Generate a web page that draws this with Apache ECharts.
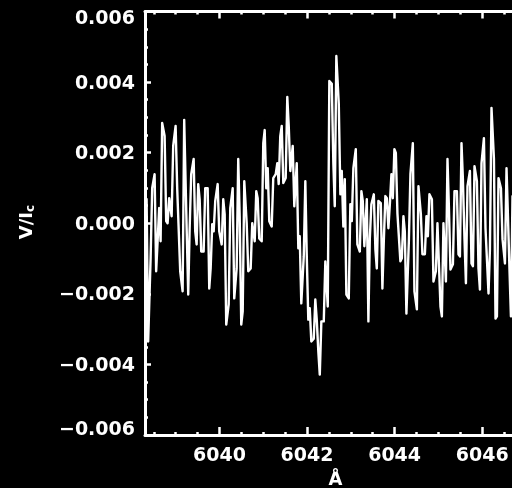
<!DOCTYPE html>
<html>
<head>
<meta charset="utf-8">
<script src="https://cdn.jsdelivr.net/npm/echarts@6/dist/echarts.min.js"></script>
<style>
html,body{margin:0;padding:0;background:#000;}
#chart{width:512px;height:488px;}
</style>
</head>
<body>
<div id="chart"></div>
<script>
// Wavelength (Å)
const wavelength = [
6038.336, 6038.372, 6038.428, 6038.464, 6038.519, 6038.555, 6038.588, 6038.624,
6038.656, 6038.692, 6038.748, 6038.784, 6038.816, 6038.852, 6038.908, 6038.944,
6038.999, 6039.035, 6039.068, 6039.104, 6039.159, 6039.195, 6039.251, 6039.287,
6039.319, 6039.355, 6039.411, 6039.447, 6039.479, 6039.515, 6039.548, 6039.584,
6039.639, 6039.675, 6039.731, 6039.767, 6039.799, 6039.835, 6039.868, 6039.904,
6039.959, 6039.995, 6040.051, 6040.087, 6040.119, 6040.155, 6040.211, 6040.247,
6040.302, 6040.338, 6040.393, 6040.429, 6040.462, 6040.498, 6040.531, 6040.567,
6040.622, 6040.658, 6040.713, 6040.749, 6040.805, 6040.841, 6040.873, 6040.909,
6040.965, 6041.001, 6041.033, 6041.069, 6041.102, 6041.138, 6041.193, 6041.229,
6041.285, 6041.321, 6041.353, 6041.389, 6041.422, 6041.458, 6041.513, 6041.549,
6041.582, 6041.618, 6041.673, 6041.709, 6041.765, 6041.801, 6041.833, 6041.869,
6041.925, 6041.961, 6041.993, 6042.029, 6042.062, 6042.098, 6042.153, 6042.189,
6042.222, 6042.258, 6042.291, 6042.327, 6042.382, 6042.418, 6042.473, 6042.509,
6042.565, 6042.601, 6042.633, 6042.669, 6042.725, 6042.761, 6042.793, 6042.829,
6042.862, 6042.898, 6042.953, 6042.989, 6043.022, 6043.058, 6043.113, 6043.149,
6043.205, 6043.241, 6043.273, 6043.309, 6043.365, 6043.401, 6043.433, 6043.469,
6043.525, 6043.561, 6043.593, 6043.629, 6043.685, 6043.721, 6043.753, 6043.789,
6043.822, 6043.858, 6043.891, 6043.927, 6043.959, 6043.995, 6044.028, 6044.064,
6044.096, 6044.132, 6044.165, 6044.201, 6044.233, 6044.269, 6044.325, 6044.361,
6044.416, 6044.452, 6044.508, 6044.544, 6044.599, 6044.635, 6044.691, 6044.727,
6044.759, 6044.795, 6044.851, 6044.887, 6044.942, 6044.978, 6045.011, 6045.047,
6045.079, 6045.115, 6045.171, 6045.207, 6045.239, 6045.275, 6045.331, 6045.367,
6045.422, 6045.458, 6045.491, 6045.527, 6045.559, 6045.595, 6045.628, 6045.664,
6045.719, 6045.755, 6045.788, 6045.824, 6045.879, 6045.915, 6045.948, 6045.984,
6046.039, 6046.075, 6046.108, 6046.144, 6046.176, 6046.212, 6046.268, 6046.304,
6046.336, 6046.372, 6046.428, 6046.464, 6046.519, 6046.555, 6046.588, 6046.624,
6046.656, 6046.692, 6046.748, 6046.784
];
// Stokes V / Ic
const stokesV = [
0.00071, -0.00335, -0.00099, 0.00099, 0.00139, -0.00136, -0.00051, 0.00043,
-0.00051, 0.00284, 0.00247, 0.00006, 0, 0.00071, 0.00020, 0.00219,
0.00276, 0.00099, 0.00099, -0.00136, -0.00193, 0.00293, -0.00014, -0.00202,
-0.00017, 0.00139, 0.00182, -0.00023, -0.00060, 0.00111, 0.00068, -0.00080,
-0.00080, 0.00099, 0.00099, -0.00185, -0.00128, -0.00003, -0.00023, 0.00063,
0.00111, -0.00023, -0.00060, 0.00068, 0.00026, -0.00287, -0.00230, 0.00043,
0.00099, -0.00213, -0.00128, 0.00182, 0.00020, -0.00287, -0.00250, 0.00119,
0, -0.00136, -0.00128, 0, -0.00051, 0.00091, 0.00071, -0.00043,
-0.00051, 0.00227, 0.00264, 0.00099, 0.00156, 0.00006, -0.00009, 0.00128,
0.00139, 0.00170, 0.00111, 0.00247, 0.00276, 0.00114, 0.00128, 0.00358,
0.00276, 0.00148, 0.00219, 0.00048, 0.00170, -0.00071, -0.00037, -0.00227,
-0.00094, 0.00119, -0.00088, -0.00273, -0.00241, -0.00335, -0.00327, -0.00216,
-0.00273, -0.00364, -0.00429, -0.00278, -0.00278, -0.00108, -0.00236, 0.00403,
0.00395, 0.00170, 0.00048, 0.00474, 0.00338, 0.00082, 0.00148, -0.00009,
0.00125, -0.00202, -0.00213, 0.00054, 0.00006, 0.00156, 0.00210, -0.00060,
-0.00080, 0.00091, 0.00063, -0.00065, 0.00068, -0.00278, -0.00045, 0.00054,
0.00082, -0.00074, -0.00128, 0.00063, 0.00057, -0.00185, -0.00051, 0.00077,
0.00071, -0.00014, 0.00054, 0.00139, 0.00071, 0.00210, 0.00199, 0.00028,
0.00028, -0.00108, -0.00099, 0.00020, -0.00023, -0.00256, -0.00051, 0.00139,
0.00227, -0.00193, -0.00244, 0.00105, 0.00026, -0.00088, -0.00088, 0.00020,
-0.00037, 0.00082, 0.00068, -0.00165, -0.00136, 0, -0.00003, -0.00236,
-0.00264, 0, -0.00165, 0.00182, 0.00048, -0.00131, -0.00116, 0.00091,
0.00091, -0.00088, -0.00094, 0.00227, 0.00125, -0.00043, -0.00170, 0.00105,
0.00148, -0.00114, -0.00122, 0.00162, 0.00119, -0.00128, -0.00188, 0.00170,
0.00241, -0.00014, -0.00017, -0.00199, -0.00074, 0.00327, 0.00182, -0.00270,
-0.00264, 0.00128, 0.00099, -0.00045, -0.00114, 0.00156, 0.00020, -0.00136,
-0.00264, 0.00077, 0.00063, -0.00051
];
const xMajorTicks = [6040, 6042, 6044, 6046];
const xMinorTicks = [6038.5, 6039, 6039.5, 6040, 6040.5, 6041, 6041.5, 6042, 6042.5,
  6043, 6043.5, 6044, 6044.5, 6045, 6045.5, 6046, 6046.5];
const yMin = -0.006, yMax = 0.006, yStep = 0.002;
const xMin = 6038.3, xMax = 6047.0;
const xName = 'Å';
const yName = 'V/I{s|c}';

const FONT = 'DejaVu Sans';
const white = '#ffffff';
const lblBase = {color: white, fontFamily: FONT, fontWeight: 'bold', fontSize: 19};

const chart = echarts.init(document.getElementById('chart'), null, {renderer: 'canvas'});
const points = wavelength.map((w, i) => [w, stokesV[i]]);

function xAxisCfg(pos, major, showLabel) {
  return {
    type: 'value', min: xMin, max: xMax, position: pos,
    axisLine: {show: major, onZero: false, lineStyle: {color: white, width: 3}},
    axisTick: {show: true, inside: true, length: major ? (pos === 'bottom' ? 8 : 7) : 3,
      customValues: major ? xMajorTicks : xMinorTicks,
      lineStyle: {color: white, width: 2.5}},
    axisLabel: showLabel ? Object.assign({show: true, customValues: xMajorTicks, margin: 12,
      formatter: v => String(Math.round(v))}, lblBase) : {show: false},
    splitLine: {show: false},
    name: (major && showLabel) ? xName : '',
    nameLocation: 'middle', nameGap: 32,
    nameTextStyle: {color: white, fontFamily: FONT, fontWeight: 'bold', fontSize: 18}
  };
}

const option = {
  backgroundColor: '#000',
  animation: false,
  grid: {left: 145, top: 11.5, right: -14, bottom: 53, containLabel: false, outerBoundsMode: 'none'},
  xAxis: [
    xAxisCfg('bottom', true, true),
    xAxisCfg('bottom', false, false),
    xAxisCfg('top', true, false),
    xAxisCfg('top', false, false)
  ],
  yAxis: [{
    type: 'value', min: yMin, max: yMax, interval: yStep, position: 'left',
    axisLine: {show: true, onZero: false, lineStyle: {color: white, width: 3}},
    axisTick: {show: true, inside: true, length: 6, lineStyle: {color: white, width: 2.5}},
    minorTick: {show: true, splitNumber: 4, length: 3, lineStyle: {color: white, width: 2.5}},
    splitLine: {show: false},
    minorSplitLine: {show: false},
    axisLabel: Object.assign({
      margin: 10,
      formatter: function (v) {
        const s = (v < -1e-9 ? '\u2212' : '') + Math.abs(v).toFixed(3);
        if (v > yMax - 1e-9) return '{t|' + s + '}';
        if (v < yMin + 1e-9) return '{b|' + s + '}';
        return '{n|' + s + '}';
      },
      rich: {
        t: Object.assign({padding: [15, 0, 0, 0]}, lblBase),
        b: Object.assign({padding: [0, 0, 9, 0]}, lblBase),
        n: Object.assign({padding: [3, 0, 0, 0]}, lblBase)
      }
    }, lblBase)
  }],
  graphic: [{
    type: 'text', x: 27, y: 222, rotation: Math.PI / 2,
    style: {
      text: yName, fill: white, font: 'bold 18px "DejaVu Sans"',
      align: 'center', verticalAlign: 'middle',
      rich: {s: {fontSize: 12, fontWeight: 'bold', fontFamily: FONT, fill: white, padding: [8, 0, 0, 0]}}
    }
  }],
  series: [{
    type: 'line', xAxisIndex: 0, yAxisIndex: 0,
    data: points, showSymbol: false, symbol: 'none', clip: true,
    lineStyle: {color: white, width: 2.4, join: 'round', cap: 'butt'},
    silent: true
  }]
};
chart.setOption(option);
</script>
</body>
</html>
